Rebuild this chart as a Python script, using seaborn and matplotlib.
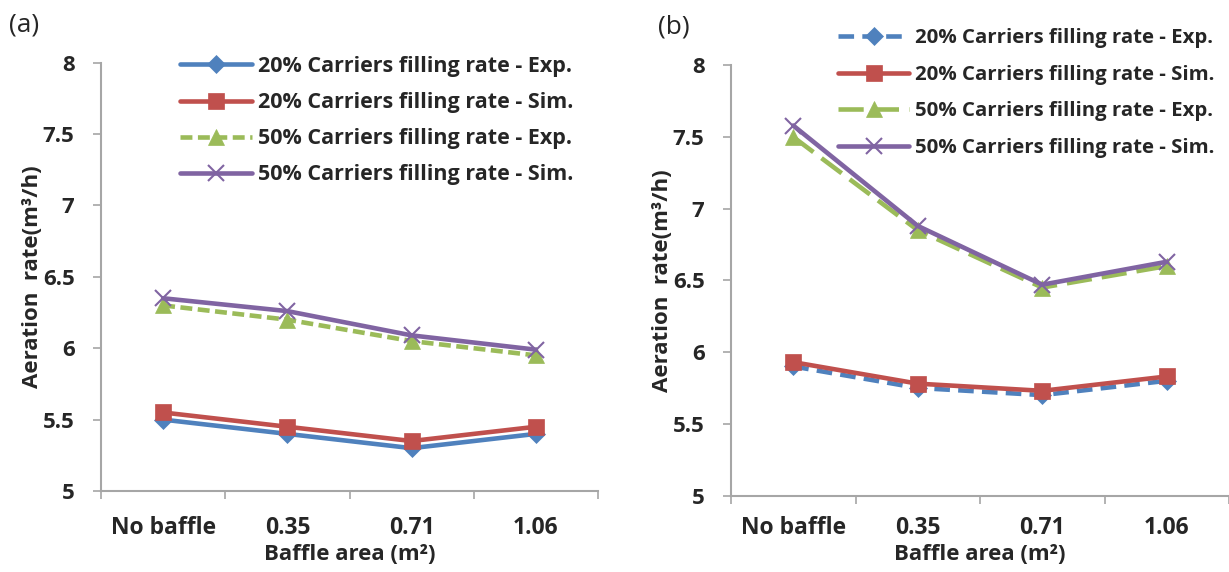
import numpy as np
import pandas as pd
import matplotlib
matplotlib.use("Agg")
import matplotlib.pyplot as plt
import seaborn as sns
from matplotlib.ticker import FixedLocator

sns.set_theme(style="white")
plt.rcParams['font.family'] = ['Open Sans', 'DejaVu Sans']

categories = ["No baffle", "0.35", "0.71", "1.06"]
series_names = ["20% Carriers filling rate - Exp.", "20% Carriers filling rate - Sim.",
                "50% Carriers filling rate - Exp.", "50% Carriers filling rate - Sim."]

a_20_exp = [5.50, 5.40, 5.30, 5.40]
a_20_sim = [5.55, 5.45, 5.35, 5.45]
a_50_exp = [6.30, 6.20, 6.05, 5.95]
a_50_sim = [6.35, 6.26, 6.09, 5.99]

b_20_exp = [5.90, 5.75, 5.70, 5.80]
b_20_sim = [5.93, 5.78, 5.73, 5.83]
b_50_exp = [7.50, 6.85, 6.45, 6.60]
b_50_sim = [7.58, 6.88, 6.47, 6.63]

yticks = [5, 5.5, 6, 6.5, 7, 7.5, 8]
ytick_labels = ["5", "5.5", "6", "6.5", "7", "7.5", "8"]

colors = ["#4F81BD", "#C0504D", "#9BBB59", "#8064A2"]
markers = ["D", "s", "^", "x"]
msizes = [9, 11, 11, 11]

styles_a = [None, None, (0, (2.6, 1.2)), None]
styles_b = [(0, (3.4, 1.8)), None, (0, (5.5, 2.2)), None]

W, H = 1229, 572
fig = plt.figure(figsize=(12.29, 5.72), dpi=100)
ax_a = fig.add_axes([101/W, 1-491/H, 497/W, (491-62.7)/H])
ax_b = fig.add_axes([731/W, 1-495.5/H, 498/W, (495.5-65.3)/H])

def draw(ax, data, styles, legend_anchor, lsize, row_spacing, hlen, axis_bottom_px):
    x = np.arange(len(categories))
    handles = []
    for name, vals, c, m, ms, ls in zip(series_names, data, colors, markers, msizes, styles):
        df = pd.DataFrame({"x": x, "y": vals})
        sns.lineplot(data=df, x="x", y="y", ax=ax, color=c, marker=m, markersize=ms,
                     markeredgecolor=c, markeredgewidth=1.5 if m == "x" else 0.5,
                     linewidth=3.3, legend=False)
        line = ax.lines[-1]
        if ls is not None:
            line.set_linestyle(ls)
            line.set_dash_capstyle("butt")
        handles.append(line)
    ax.set_xlim(-0.5, len(categories) - 0.5)
    ax.set_ylim(5, 8)
    ax.set_yticks(yticks)
    ax.set_yticklabels(ytick_labels, fontsize=16, fontweight="bold")
    ax.set_xticks(x)
    ax.set_xticklabels(categories, fontsize=16.5, fontweight="bold")
    ax.xaxis.set_minor_locator(FixedLocator(np.arange(len(categories) + 1) - 0.5))
    tick_pad = 18 if axis_bottom_px < 493 else 15
    ax.tick_params(axis="x", which="major", length=0, pad=tick_pad)
    ax.tick_params(axis="x", which="minor", length=6, width=1.2, color="#A6A6A6", direction="out", bottom=True)
    ax.tick_params(axis="y", which="major", length=6, width=1.2, color="#A6A6A6", direction="out", left=True, pad=13)
    for s in ["top", "right"]:
        ax.spines[s].set_visible(False)
    for s in ["left", "bottom"]:
        ax.spines[s].set_color("#A6A6A6")
        ax.spines[s].set_linewidth(1.5)
    bbox = ax.get_position()
    wpx, hpx = bbox.width * W, bbox.height * H
    ax.set_xlabel("Baffle area (m²)", fontsize=16, fontweight="bold", va="center")
    ax.xaxis.set_label_coords(0.5, -(555 - axis_bottom_px) / hpx)
    ax.set_ylabel("Aeration  rate(m³/h)", fontsize=16, fontweight="bold", va="center")
    ax.yaxis.set_label_coords(-68 / wpx, 0.5)
    ax.grid(False)
    fig.legend(handles, series_names, loc="upper left", bbox_to_anchor=legend_anchor,
               bbox_transform=fig.transFigure, frameon=False,
               prop={"size": lsize, "weight": "bold"}, handlelength=hlen,
               handletextpad=0.28, labelspacing=row_spacing, borderaxespad=0, borderpad=0)

draw(ax_a, [a_20_exp, a_20_sim, a_50_exp, a_50_sim], styles_a, (180/W, 1-56/H), 15.5, 0.70, 3.35, 491)
draw(ax_b, [b_20_exp, b_20_sim, b_50_exp, b_50_sim], styles_b, (838/W, 1-28/H), 14.7, 0.82, 3.5, 495.5)

fig.text(9/W, 1-25/H, "(a)", fontsize=19, va="center", ha="left")
fig.text(658/W, 1-27/H, "(b)", fontsize=19, va="center", ha="left")

fig.savefig("out.png", dpi=100)
